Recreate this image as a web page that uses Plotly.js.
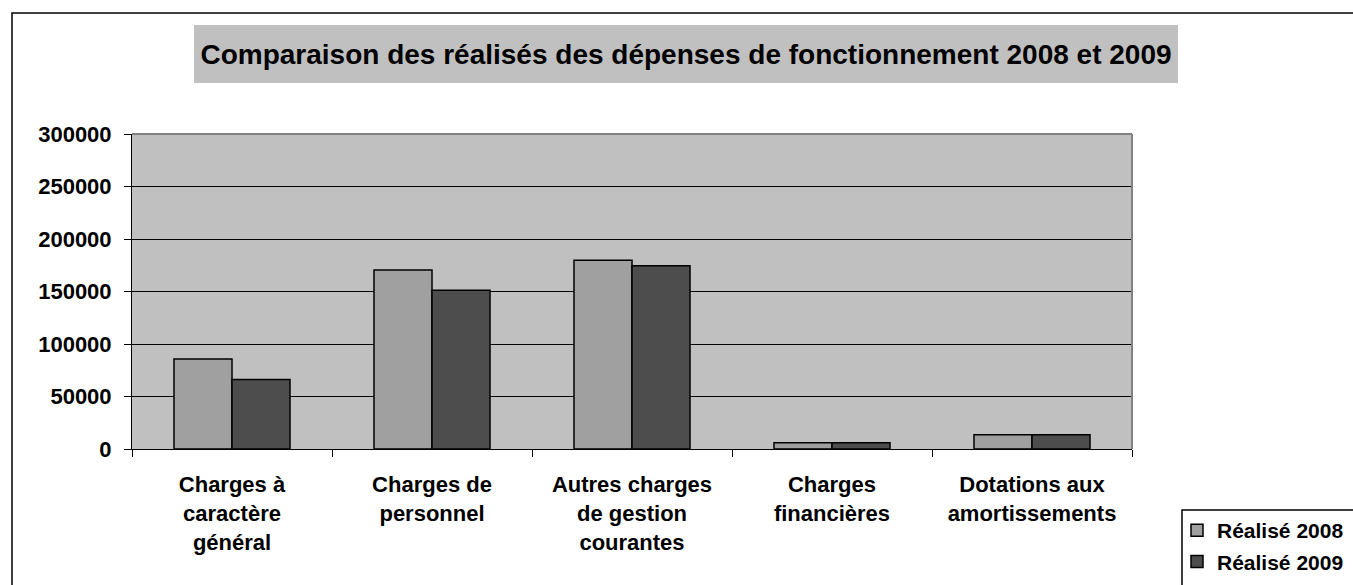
<!DOCTYPE html>
<html>
<head>
<meta charset="utf-8">
<script src="https://cdn.plot.ly/plotly-3.0.1.min.js"></script>
<style>html,body{margin:0;padding:0;background:#fff;overflow:hidden;}#chart{width:1353px;height:585px;}</style>
</head>
<body>
<div id="chart"></div>
<script>
const categories = [
  "Charges à<br>caractère<br>général",
  "Charges de<br>personnel",
  "Autres charges<br>de gestion<br>courantes",
  "Charges<br>financières",
  "Dotations aux<br>amortissements"
];
const seriesNames = ["Réalisé 2008", "Réalisé 2009"];
const realise2008 = [85800, 170400, 179700, 6000, 13600];
const realise2009 = [66300, 151300, 174600, 6000, 13600];
const yTicks = [0, 50000, 100000, 150000, 200000, 250000, 300000];
const chartTitle = "Comparaison des réalisés des dépenses de fonctionnement 2008 et 2009";

const W = 1353, H = 585;
const L = 132, R = 221, T = 134, B = 136;
const pw = W - L - R, ph = H - T - B;
const px = v => (v - L) / pw;
const py = v => (H - B - v) / ph;

const fontFam = "Arial, 'Liberation Sans', sans-serif";

const traces = [
  {type: "bar", name: seriesNames[0], x: categories, y: realise2008, legendgroup: "g1",
   marker: {color: "#A0A0A0", line: {color: "#000", width: 1.5}}},
  {type: "bar", name: seriesNames[1], x: categories, y: realise2009, legendgroup: "g2",
   marker: {color: "#4D4D4D", line: {color: "#000", width: 1.5}}}
];

const layout = {
  width: W, height: H,
  margin: {l: L, r: R, t: T, b: B, pad: 0, autoexpand: false},
  paper_bgcolor: "#fff",
  plot_bgcolor: "#C0C0C0",
  font: {family: fontFam, color: "#000"},
  barmode: "group",
  bargap: 0.42,
  bargroupgap: 0,
  showlegend: true,
  title: {text: "<b>" + chartTitle + "</b>", x: 686 / W, xanchor: "center",
          y: 1 - 54 / H, yanchor: "middle", font: {size: 28, family: fontFam, color: "#000"}},
  xaxis: {
    type: "category", automargin: false, showline: true, linecolor: "#000", linewidth: 1,
    ticks: "outside", tickson: "boundaries", ticklen: 7, tickcolor: "#000",
    showgrid: false, tickfont: {size: 22, family: fontFam, color: "#000", weight: "bold"},
    ticklabelstandoff: 16
  },
  yaxis: {
    range: [0, 300000], tickvals: yTicks, ticktext: yTicks.map(String), automargin: false,
    showline: true, linecolor: "#000", linewidth: 1,
    ticks: "outside", ticklen: 7, tickcolor: "#000",
    showgrid: true, gridcolor: "#000", gridwidth: 1, zeroline: false,
    tickfont: {size: 22, family: fontFam, color: "#000", weight: "bold"},
    ticklabelstandoff: 8
  },
  legend: {
    x: px(1177), y: py(510), xanchor: "left", yanchor: "top",
    bgcolor: "rgba(0,0,0,0)", borderwidth: 0,
    font: {size: 21, family: fontFam, color: "#000", weight: "bold"},
    itemwidth: 30, traceorder: "grouped", tracegroupgap: 1
  },
  shapes: [
    {type: "rect", xref: "paper", yref: "paper", x0: px(12), x1: px(1400), y0: py(640), y1: py(13),
     line: {color: "#000", width: 1.5}, fillcolor: "rgba(0,0,0,0)", layer: "below"},
    {type: "rect", xref: "paper", yref: "paper", x0: px(194), x1: px(1178), y0: py(83), y1: py(25),
     line: {width: 0}, fillcolor: "#C0C0C0", layer: "below"},
    {type: "line", xref: "paper", yref: "paper", x0: 0, x1: 1, y0: 1, y1: 1,
     line: {color: "#808080", width: 2}, layer: "above"},
    {type: "line", xref: "paper", yref: "paper", x0: 1, x1: 1, y0: 0, y1: 1,
     line: {color: "#808080", width: 2}, layer: "above"},
    {type: "rect", xref: "paper", yref: "paper", x0: px(1182), x1: px(1400), y0: py(640), y1: py(510),
     line: {color: "#000", width: 1.5}, fillcolor: "rgba(0,0,0,0)", layer: "above"}
  ]
};

Plotly.newPlot("chart", traces, layout, {displayModeBar: false, responsive: false});
</script>
</body>
</html>
